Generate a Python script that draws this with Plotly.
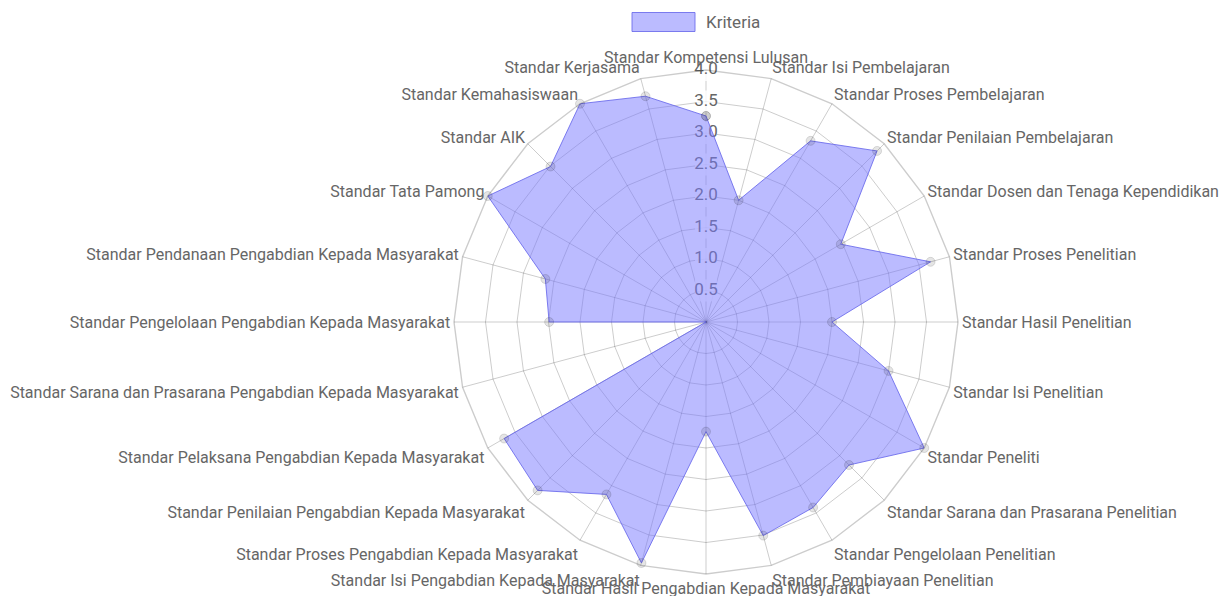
import plotly.graph_objects as go

# Criteria (clockwise from the top) and their scores
categories = [
    "Standar Kompetensi Lulusan",
    "Standar Isi Pembelajaran",
    "Standar Proses Pembelajaran",
    "Standar Penilaian Pembelajaran",
    "Standar Dosen dan Tenaga Kependidikan",
    "Standar Proses Penelitian",
    "Standar Hasil Penelitian",
    "Standar Isi Penelitian",
    "Standar Peneliti",
    "Standar Sarana dan Prasarana Penelitian",
    "Standar Pengelolaan Penelitian",
    "Standar Pembiayaan Penelitian",
    "Standar Hasil Pengabdian Kepada Masyarakat",
    "Standar Isi Pengabdian Kepada Masyarakat",
    "Standar Proses Pengabdian Kepada Masyarakat",
    "Standar Penilaian Pengabdian Kepada Masyarakat",
    "Standar Pelaksana Pengabdian Kepada Masyarakat",
    "Standar Sarana dan Prasarana Pengabdian Kepada Masyarakat",
    "Standar Pengelolaan Pengabdian Kepada Masyarakat",
    "Standar Pendanaan Pengabdian Kepada Masyarakat",
    "Standar Tata Pamong",
    "Standar AIK",
    "Standar Kemahasiswaan",
    "Standar Kerjasama",
]

kriteria = [
    3.27, 2.0, 3.32, 3.84, 2.47, 3.69, 2.0, 3.0,
    4.0, 3.21, 3.40, 3.51, 1.74, 3.96, 3.16, 3.78,
    3.70, 0.0, 2.49, 2.64, 4.0, 3.49, 4.0, 3.71,
]

tick_values = [0.5, 1.0, 1.5, 2.0, 2.5, 3.0, 3.5, 4.0]
tick_labels = [f"{v:.1f}" for v in tick_values]

series_name = "Kriteria"
fill_color = "rgba(120,120,255,0.5)"
line_color = "rgba(105,105,235,0.85)"
grid_color = "rgba(0,0,0,0.2)"
text_color = "#666666"
font_family = "Roboto, Arial, sans-serif"

fig = go.Figure()

# Radial scale labels along the top spoke, with a soft white backdrop
fig.add_trace(go.Scatterpolar(
    r=tick_values,
    theta=[categories[0]] * len(tick_values),
    mode="markers+text",
    text=tick_labels,
    textposition="middle center",
    textfont=dict(size=17, color=text_color, family=font_family),
    marker=dict(symbol="square", size=22, color="rgba(255,255,255,0.8)",
                line=dict(width=0)),
    hoverinfo="skip",
    showlegend=False,
))

# The dataset polygon
fig.add_trace(go.Scatterpolar(
    r=kriteria + [kriteria[0]],
    theta=categories + [categories[0]],
    name=series_name,
    mode="lines+markers",
    fill="toself",
    fillcolor=fill_color,
    line=dict(color=line_color, width=1),
    marker=dict(size=9, color="rgba(0,0,0,0.1)",
                line=dict(color="rgba(0,0,0,0.12)", width=1)),
    showlegend=False,
))

# Legend swatch and caption at the top
fig.add_shape(type="rect", xref="paper", yref="paper",
              x0=632 / 1224, x1=695 / 1224, y0=1 - 31.5 / 596, y1=1 - 12.5 / 596,
              fillcolor=fill_color, line=dict(color=line_color, width=1))
fig.add_annotation(xref="paper", yref="paper", x=704 / 1224, y=1 - 22 / 596,
                   xanchor="left", yanchor="middle", showarrow=False,
                   text=series_name,
                   font=dict(size=17, color=text_color, family=font_family))

fig.update_layout(
    width=1224,
    height=596,
    margin=dict(l=0, r=0, t=0, b=0),
    paper_bgcolor="white",
    showlegend=False,
    font=dict(family=font_family, color=text_color),
    polar=dict(
        domain=dict(x=[454 / 1224, 958 / 1224], y=[22 / 596, 526 / 596]),
        bgcolor="white",
        gridshape="linear",
        radialaxis=dict(
            range=[0, 4],
            tickvals=tick_values,
            showticklabels=False,
            ticks="",
            showline=False,
            gridcolor=grid_color,
            gridwidth=1.4,
            angle=90,
        ),
        angularaxis=dict(
            rotation=90,
            direction="clockwise",
            showline=True,
            linecolor=grid_color,
            linewidth=1.4,
            gridcolor=grid_color,
            gridwidth=1.4,
            ticks="",
            tickfont=dict(size=16, color=text_color, family=font_family),
        ),
    ),
)

fig.write_html("out.html")
